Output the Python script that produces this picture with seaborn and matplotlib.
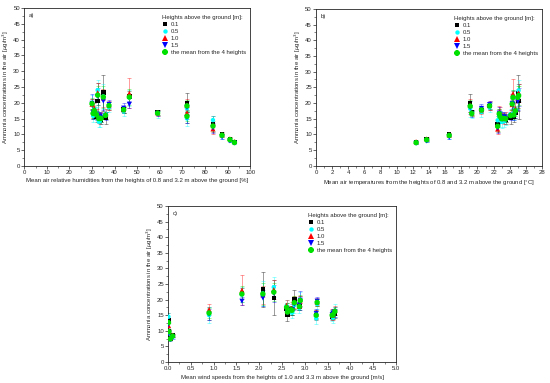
import numpy as np
import pandas as pd
import seaborn as sns
import matplotlib.pyplot as plt
from matplotlib.ticker import MultipleLocator

# measurement occasions (x variables for the three panels)
rh = [93, 91, 87.5, 83.5, 72, 72, 59, 46.5, 44, 37.5, 36, 35, 32.5, 33, 34, 33.5, 30, 31, 32, 30.5]
temp = [12.4, 13.7, 16.5, 22.5, 19.1, 22.8, 19.3, 24.4, 20.5, 21.5, 24.1, 25.0, 25.1, 23.0, 23.5, 23.3, 24.3, 24.7, 24.5, 22.7]
wind = [0.05, 0.1, 0.02, 0.01, 2.77, 0.9, 2.7, 1.62, 2.88, 3.27, 2.62, 2.08, 2.32, 3.25, 3.6, 3.62, 2.9, 2.6, 3.66, 2.72]

# ammonia concentrations [ug/m3] per height and their error bars
c01 = [7.5, 8.5, 10.0, 13.3, 20.0, 15.6, 17.0, 22.0, 17.8, 19.0, 15.2, 23.2, 20.6, 15.0, 14.6, 15.4, 19.6, 17.0, 15.5, 16.5]
c05 = [7.3, 8.2, 9.4, 14.5, 18.2, 15.0, 16.5, 21.6, 17.2, 18.6, 16.5, 22.0, 24.0, 14.0, 14.8, 14.2, 20.0, 18.0, 16.5, 15.8]
c10 = [7.7, 8.6, 9.8, 11.7, 19.2, 16.8, 16.8, 23.0, 17.8, 19.2, 16.4, 21.5, 23.2, 15.3, 15.5, 15.0, 19.5, 18.2, 16.6, 17.2]
c15 = [7.2, 7.9, 9.2, 12.0, 18.5, 15.3, 16.6, 19.5, 18.3, 19.5, 15.8, 20.5, 22.0, 15.5, 15.2, 15.6, 19.8, 16.8, 16.0, 16.8]
cmean = [7.4, 8.3, 9.7, 12.6, 19.0, 15.7, 16.7, 21.8, 17.8, 19.1, 16.0, 21.8, 22.4, 15.0, 15.0, 15.1, 19.7, 17.5, 16.2, 16.6]

e01 = [0.4, 0.5, 0.6, 2.5, 3.0, 2.0, 0.8, 1.8, 1.0, 1.2, 2.0, 5.7, 5.6, 1.5, 1.3, 1.5, 1.5, 1.8, 1.5, 1.5]
e05 = [0.4, 0.5, 0.8, 1.3, 2.5, 2.5, 1.2, 2.5, 1.5, 1.5, 1.5, 4.0, 3.3, 1.8, 1.7, 1.8, 2.3, 2.0, 2.0, 1.8]
e10 = [0.5, 0.5, 0.6, 1.5, 2.0, 1.8, 1.0, 4.8, 1.2, 1.4, 1.5, 3.0, 3.0, 1.5, 1.5, 1.6, 1.8, 1.8, 1.5, 2.0]
e15 = [0.4, 0.4, 0.7, 1.5, 2.0, 1.7, 0.9, 1.2, 1.5, 1.3, 1.2, 2.7, 2.8, 1.5, 1.4, 1.5, 3.0, 1.6, 1.5, 1.8]
emean = [0.3, 0.4, 0.5, 1.5, 2.0, 1.6, 0.7, 2.5, 1.0, 1.0, 1.2, 3.5, 3.0, 1.2, 1.2, 1.3, 1.8, 1.5, 1.3, 1.5]

heights = ["0.1", "0.5", "1.0", "1.5", "the mean from the 4 heights"]
colors = ["black", "cyan", "red", "blue", "#00e000"]
markers = ["s", "o", "^", "v", "8"]
sizes = [10, 10, 13, 13, 17]

rows = []
for h, c, e in zip(heights, [c01, c05, c10, c15, cmean], [e01, e05, e10, e15, emean]):
    for i in range(len(c)):
        rows.append({"rh": rh[i], "temp": temp[i], "wind": wind[i],
                     "conc": c[i], "err": e[i], "height": h})
df = pd.DataFrame(rows)

sns.set_style("ticks")
plt.rcParams["font.family"] = ["Liberation Sans", "DejaVu Sans"]
fs = 4.3

fig = plt.figure(figsize=(5.5, 3.83), dpi=100)
ax_a = fig.add_axes([0.044, 0.567, 0.411, 0.412])
ax_b = fig.add_axes([0.5745, 0.567, 0.411, 0.410])
ax_c = fig.add_axes([0.3055, 0.055, 0.4145, 0.407])

panels = [
    (ax_a, "rh", "a)", (0, 100), 10, 5,
     "Mean air relative humidities from the heights of 0.8 and 3.2 m above the ground [%]"),
    (ax_b, "temp", "b)", (0, 28), 2, 1,
     "Mean air temperatures from the heights of 0.8 and 3.2 m above the ground [$^{\\circ}$C]"),
    (ax_c, "wind", "c)", (0, 5), 0.5, 0.25,
     "Mean wind speeds from the heights of 1.0 and 3.3 m above the ground [m/s]"),
]

for ax, xcol, tag, xlim, major, minor, xlabel in panels:
    for h, col in zip(heights, colors):
        sub = df[df["height"] == h]
        ax.errorbar(sub[xcol], sub["conc"], yerr=sub["err"], fmt="none",
                    ecolor=col, alpha=0.45, elinewidth=0.6, capsize=1.4, capthick=0.6)
    sns.scatterplot(data=df, x=xcol, y="conc", hue="height", style="height",
                    size="height", sizes=dict(zip(heights, sizes)),
                    palette=dict(zip(heights, colors)), markers=dict(zip(heights, markers)),
                    hue_order=heights, style_order=heights, size_order=heights,
                    edgecolor="none", linewidth=0, ax=ax, zorder=3)
    ax.set_xlim(*xlim)
    ax.set_ylim(0, 50)
    ax.xaxis.set_major_locator(MultipleLocator(major))
    ax.xaxis.set_minor_locator(MultipleLocator(minor))
    ax.yaxis.set_major_locator(MultipleLocator(5))
    ax.yaxis.set_minor_locator(MultipleLocator(2.5))
    if xcol == "wind":
        ax.xaxis.set_major_formatter(plt.FormatStrFormatter("%.1f"))
    ax.tick_params(which="major", length=2, width=0.5, labelsize=fs, pad=1)
    ax.tick_params(which="minor", length=1.2, width=0.4)
    for sp in ax.spines.values():
        sp.set_linewidth(0.6)
    ax.set_xlabel(xlabel, fontsize=fs, labelpad=2.5)
    ax.set_ylabel("Ammonia concentrations in the air [$\\mu$g/m$^3$]", fontsize=fs, labelpad=1.5)
    ax.text(0.02, 0.97, tag, transform=ax.transAxes, fontsize=fs, va="top", ha="left")
    handles, labels = ax.get_legend_handles_labels()
    ax.legend(handles, labels, title="Heights above the ground [m]:", loc="upper right",
              bbox_to_anchor=(1.0, 0.98), frameon=False, fontsize=fs, title_fontsize=fs,
              markerscale=1.0, handletextpad=0.5, labelspacing=0.3, borderaxespad=0.3,
              handlelength=1.0)
    ax.get_legend()._legend_box.align = "left"

fig.savefig("out.png", dpi=100)
